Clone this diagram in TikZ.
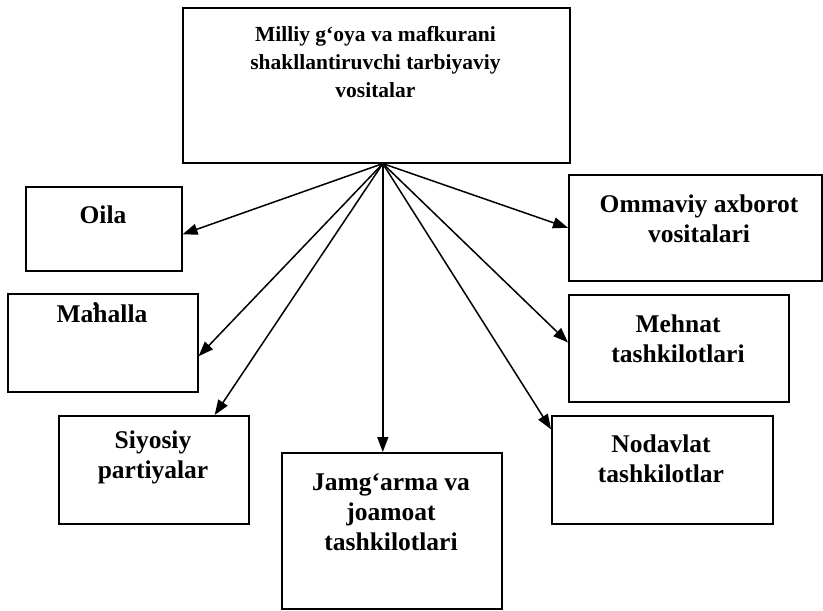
\documentclass[tikz,border=0pt]{standalone}
\usepackage{fontspec}
\setmainfont{Liberation Serif}
\usetikzlibrary{arrows.meta}
\tikzset{
  box/.style={draw, line width=1.6pt, anchor=north west, inner sep=0pt},
  caption/.style={align=center, inner sep=0pt, font=\bfseries\fontsize{25.5}{30}\selectfont},
}
\begin{document}
\begin{tikzpicture}[x=1pt, y=-1pt]
    \useasboundingbox (0,0) rectangle (823,611);
    \node[box, minimum width=387pt, minimum height=155pt] (goal) at (182,7) {};
    \node[caption, font=\bfseries\fontsize{21.5}{28}\selectfont] (goaltext) at (375.5,62) {Milliy g‘oya va mafkurani \\ shakllantiruvchi tarbiyaviy \\ vositalar};

    \node[box, minimum width=156pt, minimum height=84pt] (oila) at (25,186) {};
    \node[caption] (oilatext) at (103,215) {Oila};
    \node[box, minimum width=190pt, minimum height=98pt] (mahalla) at (7,293) {};
    \node[caption] (mahallatext) at (102,313) {Ma\rlap{\kern-0.08em\raisebox{0.12em}{’}}halla};
    \node[box, minimum width=190pt, minimum height=108pt] (siyosiy) at (58,415) {};
    \node[caption] (siyosiytext) at (153,457) {Siyosiy \\ partiyalar};
    \node[box, minimum width=220pt, minimum height=156pt] (jamgarma) at (281,452) {};
    \node[caption] (jamgarmatext) at (391,512) {Jamg‘arma va \\ joamoat \\ tashkilotlari};
    \node[box, minimum width=221pt, minimum height=108pt] (nodavlat) at (551,415) {};
    \node[caption] (nodavlattext) at (661,459) {Nodavlat \\ tashkilotlar};
    \node[box, minimum width=220pt, minimum height=107pt] (mehnat) at (568,294) {};
    \node[caption] (mehnattext) at (678,339) {Mehnat \\ tashkilotlari};
    \node[box, minimum width=253pt, minimum height=106pt] (ommaviy) at (568,174) {};
    \node[caption] (ommaviytext) at (699,219) {Ommaviy axborot \\ vositalari};

    \coordinate (src) at ([xshift=6.5pt]goal.south);
    \begin{scope}[-{Triangle[length=15pt, width=11pt]}, line width=1.5pt]
        \draw (src) -- (oila.-4);
        \draw (src) -- (mahalla.-8);
        \draw (src) -- (siyosiy.42);
        \draw (src) -- (src |- jamgarma.north);
        \draw (src) -- (nodavlat.160);
        \draw (src) -- (mehnat.177);
        \draw (src) -- (ommaviy.west);
    \end{scope}
\end{tikzpicture}
\end{document}
